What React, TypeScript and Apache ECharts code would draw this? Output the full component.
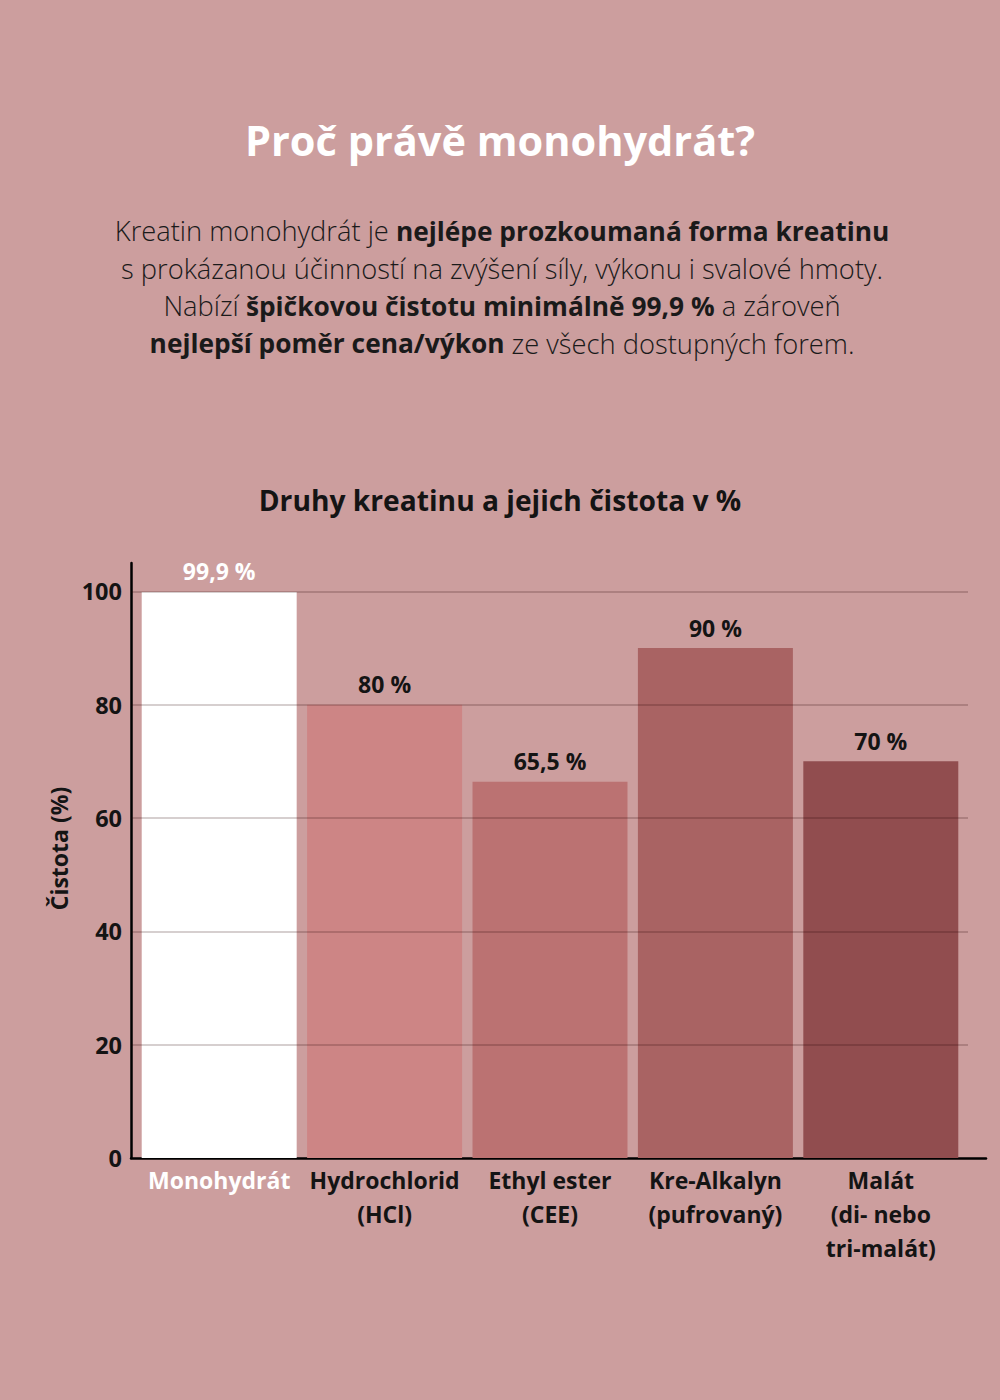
import React, { useEffect, useRef } from 'react';
import * as echarts from 'echarts';

const categories = ['Monohydrát', 'Hydrochlorid\n(HCl)', 'Ethyl ester\n(CEE)', 'Kre-Alkalyn\n(pufrovaný)', 'Malát\n(di- nebo\ntri-malát)'];
const purity = [99.9, 80, 66.4, 90, 70];
const purityLabels = ['99,9 %', '80 %', '65,5 %', '90 %', '70 %'];
const barColors = ['#ffffff', '#cd8585', '#bb7272', '#a96363', '#914d4f'];
const labelColors = ['#ffffff', '#141414', '#141414', '#141414', '#141414'];

const BG = '#cc9e9e';
const FONT = '"Open Sans", "Noto Sans", sans-serif';

const paragraph = [
  'Kreatin monohydrát je {b|nejlépe prozkoumaná forma kreatinu}',
  's prokázanou účinností na zvýšení síly, výkonu i svalové hmoty.',
  'Nabízí {b|špičkovou čistotu minimálně 99,9 %} a zároveň',
  '{b|nejlepší poměr cena/výkon} ze všech dostupných forem.',
].join('\n');

const App: React.FC = () => {
  const chartRef = useRef<HTMLDivElement | null>(null);

  useEffect(() => {
    document.body.style.margin = '0';
    document.body.style.background = BG;
    if (!chartRef.current) return;
    const chart = echarts.init(chartRef.current, undefined, { renderer: 'svg' });

    const axisMax = 105;

    chart.setOption({
      animation: false,
      backgroundColor: BG,
      textStyle: { fontFamily: FONT },
      title: [
        {
          text: 'Proč právě monohydrát?',
          left: 'center',
          top: 114,
          textStyle: { color: '#ffffff', fontSize: 41.5, fontWeight: 'bold', fontFamily: FONT },
        },
        {
          text: 'Druhy kreatinu a jejich čistota v %',
          left: 'center',
          top: 481,
          textStyle: { color: '#141414', fontSize: 28.2, fontWeight: 'bold', fontFamily: FONT },
        },
      ],
      graphic: [
        {
          type: 'text',
          x: 502,
          y: 212,
          style: {
            text: paragraph,
            align: 'center',
            verticalAlign: 'top',
            fill: '#1a1a1a',
            fontSize: 27.3,
            fontWeight: 300,
            lineHeight: 37.5,
            fontFamily: FONT,
            rich: {
              b: { fontSize: 26.3, fontWeight: 'bold', lineHeight: 37.5, fill: '#1a1a1a', fontFamily: FONT },
            },
          },
        },
      ],
      grid: [
        // axis lines + labels
        { left: 131, right: 14, top: 563, bottom: 242 },
        // split lines
        { left: 131, right: 32, top: 563, bottom: 242 },
        // bars
        { left: 136.5, right: 36.5, top: 563, bottom: 242 },
      ],
      xAxis: [
        {
          gridIndex: 0,
          type: 'value',
          min: 0,
          max: 1,
          axisLine: { show: true, lineStyle: { color: '#000000', width: 2.5 } },
          axisTick: { show: false },
          axisLabel: { show: false },
          splitLine: { show: false },
        },
        {
          gridIndex: 1,
          type: 'value',
          show: false,
        },
        {
          gridIndex: 2,
          type: 'category',
          data: categories,
          axisLine: { show: false },
          axisTick: { show: false },
          axisLabel: {
            interval: 0,
            margin: 5,
            fontSize: 23,
            fontWeight: 'bold',
            lineHeight: 34,
            fontFamily: FONT,
            color: (_v: string, i: number) => labelColors[i],
          },
        },
      ],
      yAxis: [
        {
          gridIndex: 0,
          type: 'value',
          min: 0,
          max: axisMax,
          interval: 20,
          name: 'Čistota (%)',
          nameLocation: 'middle',
          nameGap: 60,
          nameTextStyle: {
            fontSize: 23,
            fontWeight: 'bold',
            color: '#141414',
            fontFamily: FONT,
            padding: [0, 0, 0, 24],
          },
          axisLine: { show: true, lineStyle: { color: '#000000', width: 2.5 } },
          axisTick: { show: false },
          axisLabel: {
            margin: 9,
            fontSize: 23.5,
            fontWeight: 'bold',
            color: '#141414',
            fontFamily: FONT,
            formatter: (v: number) => (v > 100 ? '' : String(v)),
          },
          splitLine: { show: false },
        },
        {
          gridIndex: 1,
          type: 'value',
          min: 0,
          max: axisMax,
          interval: 20,
          z: 10,
          axisLine: { show: false },
          axisTick: { show: false },
          axisLabel: { show: false },
          splitLine: {
            show: true,
            showMinLine: false,
            showMaxLine: false,
            lineStyle: { color: 'rgba(40,0,0,0.25)', width: 1.5 },
          },
        },
        {
          gridIndex: 2,
          type: 'value',
          min: 0,
          max: axisMax,
          show: false,
        },
      ],
      series: [
        {
          type: 'bar',
          xAxisIndex: 2,
          yAxisIndex: 2,
          barCategoryGap: '6.3%',
          data: purity.map((v, i) => ({
            value: v,
            itemStyle: { color: barColors[i] },
            label: { color: labelColors[i] },
          })),
          label: {
            show: true,
            position: 'top',
            distance: 9,
            fontSize: 23,
            fontWeight: 'bold',
            fontFamily: FONT,
            formatter: (p: any) => purityLabels[p.dataIndex],
          },
        },
      ],
    });

    return () => {
      chart.dispose();
    };
  }, []);

  return <div ref={chartRef} style={{ width: '1000px', height: '1400px' }} />;
};

export default App;
